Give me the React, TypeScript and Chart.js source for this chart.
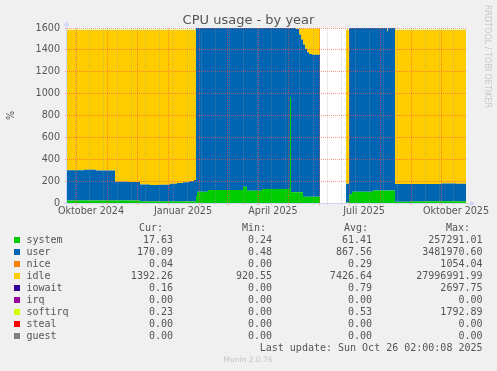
import React, { useEffect, useRef } from 'react';
import { Chart, registerables } from 'chart.js';

Chart.register(...registerables);

// x values: days since 1 Oct 2024 (null entries = no data)
const DAYS = [-9, 8, 20, 39, 52, 64, 74, 84, 94, 101, 107, 113, 118, 120, 121, 132, 167, 171, 186, 214, 215, 220, 223, 225, 227, 229, 231, 233, 236, 244, 245, 270, 273, 276, 297, 311, 312, 319, 335, 350, 365, 380, 390];

const SYSTEM = [22, 22, 22, 22, 22, 14, 14, 14, 14, 14, 14, 14, 14, 60, 103, 119, 149, 112, 128, 970, 98, 98, 98, 98, 58, 58, 58, 58, 58, 58, null, 5, 80, 103, 115, 115, 115, 12, 14, 15, 16, 17, 17.63];
const USER = [278, 282, 276, 172, 170, 155, 150, 152, 162, 170, 176, 186, 196, 1552, 1509, 1493, 1463, 1500, 1484, 642, 1514, 1494, 1442, 1397, 1392, 1352, 1320, 1305, 1297, 1297, null, 170, 1532, 1509, 1497, 1455, 1497, 162, 160, 158, 162, 158, 170.09];
const NICE = [0, 0, 0, 0, 0, 0, 0, 0, 0, 0, 0, 0, 0, 0, 0, 0, 0, 0, 0, 0, 0, 0, 0, 0, 0, 0, 0, 0, 0, 0, null, 0, 0, 0, 0, 0, 0, 0, 0, 0, 0, 0, 0.04];
const IDLE = [1280, 1276, 1282, 1386, 1388, 1411, 1416, 1414, 1404, 1396, 1390, 1380, 1370, 0, 0, 0, 0, 0, 0, 0, 0, 3, 55, 100, 145, 185, 217, 232, 240, 240, null, 1405, 0, 0, 0, 15, 0, 1406, 1406, 1407, 1402, 1405, 1392.26];
const IOWAIT = [2, 2, 2, 2, 2, 2, 2, 2, 2, 2, 2, 2, 2, 0, 0, 0, 0, 0, 0, 0, 0, 0, 0, 0, 0, 0, 0, 0, 0, 0, null, 2, 0, 0, 0, 0, 0, 2, 2, 2, 2, 2, 0.16];
const IRQ = [0, 0, 0, 0, 0, 0, 0, 0, 0, 0, 0, 0, 0, 0, 0, 0, 0, 0, 0, 0, 0, 0, 0, 0, 0, 0, 0, 0, 0, 0, null, 0, 0, 0, 0, 0, 0, 0, 0, 0, 0, 0, 0];
const SOFTIRQ = [4, 4, 4, 4, 4, 4, 4, 4, 4, 4, 4, 4, 4, 0, 0, 0, 0, 0, 0, 0, 0, 0, 0, 0, 0, 0, 0, 0, 0, 0, null, 4, 0, 0, 0, 0, 0, 4, 4, 4, 4, 4, 0.23];
const STEAL = [0, 0, 0, 0, 0, 0, 0, 0, 0, 0, 0, 0, 0, 0, 0, 0, 0, 0, 0, 0, 0, 0, 0, 0, 0, 0, 0, 0, 0, 0, null, 0, 0, 0, 0, 0, 0, 0, 0, 0, 0, 0, 0];
const GUEST = [0, 0, 0, 0, 0, 0, 0, 0, 0, 0, 0, 0, 0, 0, 0, 0, 0, 0, 0, 0, 0, 0, 0, 0, 0, 0, 0, 0, 0, 0, null, 0, 0, 0, 0, 0, 0, 0, 0, 0, 0, 0, 0];

const SERIES_NAMES = ['system', 'user', 'nice', 'idle', 'iowait', 'irq', 'softirq', 'steal', 'guest'];
const SERIES_COLORS = ['#00CC00', '#0066B3', '#FF8000', '#FFCC00', '#330099', '#990099', '#CCFF00', '#FF0000', '#808080'];
const SERIES_VALUES = [SYSTEM, USER, NICE, IDLE, IOWAIT, IRQ, SOFTIRQ, STEAL, GUEST];

const CUR = [17.63, 170.09, 0.04, 1392.26, 0.16, 0, 0.23, 0, 0];
const MIN = [0.24, 0.48, 0, 920.55, 0, 0, 0, 0, 0];
const AVG = [61.41, 867.56, 0.29, 7426.64, 0.79, 0, 0.53, 0, 0];
const MAX = [257291.01, 3481970.6, 1054.04, 27996991.99, 2697.75, 0, 1792.89, 0, 0];

const Y_TICKS = [0, 100, 200, 300, 400, 500, 600, 700, 800, 900, 1000, 1100, 1200, 1300, 1400, 1500, 1600];
const MONTH_STARTS = [0, 31, 61, 92, 123, 151, 182, 212, 243, 273, 304, 335, 365];
const BIWEEKLY = [-1, 13, 27, 41, 55, 69, 83, 97, 111, 125, 139, 153, 167, 181, 195, 209, 223, 237, 251, 265, 279, 293, 307, 321, 335, 349, 363, 377];
const LABEL_DAYS = [15, 107, 197, 288, 380];
const X_LABELS = ['Oktober 2024', 'Januar 2025', 'April 2025', 'Juli 2025', 'Oktober 2025'];

const TITLE = 'CPU usage - by year';
const LAST_UPDATE = 'Last update: Sun Oct 26 02:00:08 2025';
const VERSION = 'Munin 2.0.76';
const WATERMARK = 'RRDTOOL / TOBI OETIKER';

const MAJOR = 'rgba(245,79,79,0.6)';
const MINOR = 'rgba(158,158,158,0.41)';
const TEXT = '#555555';

const decor = {
  id: 'muninDecor',
  beforeDraw(chart: any) {
    const { ctx, chartArea: a } = chart;
    ctx.save();
    ctx.fillStyle = '#F0F0F0';
    ctx.fillRect(0, 0, chart.width, chart.height);
    ctx.fillStyle = '#FFFFFF';
    ctx.fillRect(a.left, a.top, a.right - a.left, a.bottom - a.top);
    ctx.restore();
  },
  afterDraw(chart: any) {
    const { ctx, chartArea: a } = chart;
    ctx.save();
    // axes + arrows
    ctx.strokeStyle = '#CFD6F8';
    ctx.fillStyle = '#CFD6F8';
    ctx.lineWidth = 1;
    ctx.beginPath();
    ctx.moveTo(a.left - 3, a.bottom + 0.5);
    ctx.lineTo(a.right + 4, a.bottom + 0.5);
    ctx.moveTo(a.left - 0.5, a.bottom + 3);
    ctx.lineTo(a.left - 0.5, a.top - 2);
    ctx.stroke();
    ctx.beginPath();
    ctx.moveTo(a.right + 4, a.bottom + 0.5 - 3);
    ctx.lineTo(a.right + 9, a.bottom + 0.5);
    ctx.lineTo(a.right + 4, a.bottom + 0.5 + 3);
    ctx.closePath();
    ctx.fill();
    ctx.beginPath();
    ctx.moveTo(a.left - 3.5, a.top - 2);
    ctx.lineTo(a.left - 0.5, a.top - 7);
    ctx.lineTo(a.left + 2.5, a.top - 2);
    ctx.closePath();
    ctx.fill();

    // title
    ctx.fillStyle = TEXT;
    ctx.font = "13px 'DejaVu Sans'";
    ctx.textAlign = 'center';
    ctx.textBaseline = 'alphabetic';
    ctx.fillText(TITLE, 248.5, 24);

    // watermark
    ctx.save();
    ctx.fillStyle = '#C8C8C8';
    ctx.font = "8px 'DejaVu Sans'";
    ctx.translate(487.5, 5);
    ctx.rotate(Math.PI / 2);
    ctx.textAlign = 'left';
    ctx.textBaseline = 'middle';
    ctx.fillText(WATERMARK, 0, 0);
    ctx.restore();

    // legend table
    ctx.font = "10px 'DejaVu Sans Mono'";
    ctx.textBaseline = 'middle';
    ctx.fillStyle = TEXT;
    ctx.textAlign = 'right';
    ctx.fillText('Cur:', 163, 228);
    ctx.fillText('Min:', 266, 228);
    ctx.fillText('Avg:', 368, 228);
    ctx.fillText('Max:', 470, 228);
    SERIES_NAMES.forEach((name, i) => {
      const y = 240 + i * 12;
      ctx.fillStyle = SERIES_COLORS[i];
      ctx.fillRect(14, y - 3, 6, 6);
      ctx.fillStyle = TEXT;
      ctx.textAlign = 'left';
      ctx.fillText(name, 26.5, y);
      ctx.textAlign = 'right';
      ctx.fillText(CUR[i].toFixed(2), 173, y);
      ctx.fillText(MIN[i].toFixed(2), 272, y);
      ctx.fillText(AVG[i].toFixed(2), 372, y);
      ctx.fillText(MAX[i].toFixed(2), 482.5, y);
    });
    ctx.textAlign = 'right';
    ctx.fillText(LAST_UPDATE, 482.5, 348);

    ctx.fillStyle = '#C4C4C4';
    ctx.font = "7.5px 'DejaVu Sans'";
    ctx.textAlign = 'center';
    ctx.fillText(VERSION, 248, 360);
    ctx.restore();
  },
};

export default function App() {
  const ref = useRef<HTMLCanvasElement>(null);

  useEffect(() => {
    const canvas = ref.current;
    if (!canvas) return;
    const datasets = SERIES_NAMES.map((name, i) => ({
      label: name,
      data: DAYS.map((d, k) => ({ x: d, y: SERIES_VALUES[i][k] })),
      backgroundColor: SERIES_COLORS[i],
      borderColor: SERIES_COLORS[i],
      borderWidth: 0,
      pointRadius: 0,
      pointHoverRadius: 0,
      fill: i === 0 ? 'origin' : '-1',
      stepped: true,
      spanGaps: false,
      tension: 0,
    }));

    const tickFont = { family: "'DejaVu Sans'", size: 9.6 };

    const chart = new Chart(canvas, {
      type: 'line',
      data: { datasets: datasets as any },
      options: {
        animation: false,
        responsive: false,
        devicePixelRatio: 1,
        events: [],
        layout: { padding: { top: 28, right: 31, left: 0, bottom: 0 } },
        plugins: {
          legend: { display: false },
          tooltip: { enabled: false },
          title: { display: false },
        },
        scales: {
          x: {
            type: 'linear',
            min: -9,
            max: 390,
            afterFit: (s: any) => { s.height = 168; },
            afterBuildTicks: (s: any) => {
              const vals = Array.from(new Set([...MONTH_STARTS, ...BIWEEKLY, ...LABEL_DAYS])).sort((p, q) => p - q);
              s.ticks = vals.map((v) => ({ value: v }));
            },
            grid: {
              z: 1,
              lineWidth: 1,
              color: (c: any) => {
                const v = c.tick ? c.tick.value : null;
                if (MONTH_STARTS.includes(v)) return MAJOR;
                if (BIWEEKLY.includes(v)) return MINOR;
                return 'rgba(0,0,0,0)';
              },
              tickColor: (c: any) => {
                const v = c.tick ? c.tick.value : null;
                if (MONTH_STARTS.includes(v)) return MAJOR;
                if (BIWEEKLY.includes(v)) return MINOR;
                return 'rgba(0,0,0,0)';
              },
              tickLength: 2,
              drawTicks: true,
            },
            border: { display: false, dash: [1, 1] },
            ticks: {
              autoSkip: false,
              maxRotation: 0,
              minRotation: 0,
              padding: 1,
              color: TEXT,
              font: tickFont,
              callback: (value: any) => {
                const i = LABEL_DAYS.indexOf(Number(value));
                return i >= 0 ? X_LABELS[i] : '';
              },
            },
          },
          y: {
            type: 'linear',
            stacked: true,
            min: 0,
            max: 1600,
            afterFit: (s: any) => { s.width = 67; },
            afterBuildTicks: (s: any) => {
              s.ticks = Y_TICKS.map((v) => ({ value: v }));
            },
            grid: {
              z: 1,
              lineWidth: 1,
              color: (c: any) => (c.tick && c.tick.value % 200 === 0 ? MAJOR : MINOR),
              tickColor: (c: any) => (c.tick && c.tick.value % 200 === 0 ? MAJOR : MINOR),
              tickLength: 2,
              drawTicks: true,
            },
            border: { display: false, dash: [1, 1] },
            ticks: {
              padding: 5,
              color: TEXT,
              font: tickFont,
              callback: (value: any) => (Number(value) % 200 === 0 ? String(value) : ''),
            },
            title: {
              display: true,
              text: '%',
              color: TEXT,
              font: tickFont,
              padding: { top: 6, bottom: 0 },
            },
          },
        },
      } as any,
      plugins: [decor],
    });

    return () => chart.destroy();
  }, []);

  return (
    <div style={{ position: 'absolute', left: 0, top: 0, width: 497, height: 371, background: '#F0F0F0' }}>
      <canvas ref={ref} width={497} height={371} style={{ display: 'block', width: 497, height: 371 }} />
    </div>
  );
}
